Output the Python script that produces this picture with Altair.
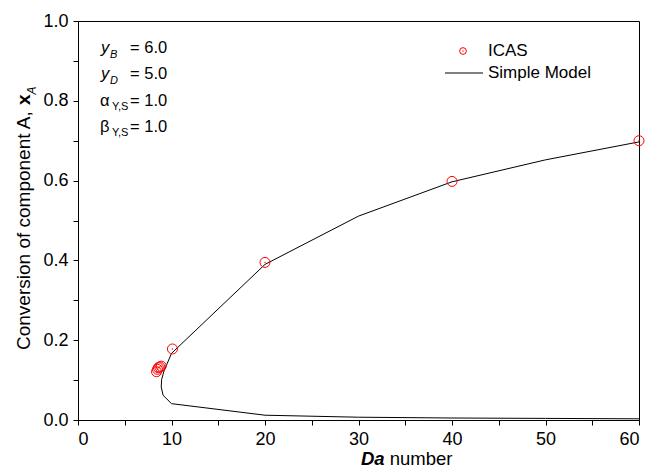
import altair as alt
import pandas as pd

FONT = "Liberation Sans, Arial, sans-serif"

# ICAS simulation results (Da number, conversion of A)
icas_da = [8.4, 8.5, 8.6, 8.75, 8.9, 10.1, 20.0, 40.0, 60.0]
icas_xa = [0.121, 0.127, 0.131, 0.133, 0.135, 0.178, 0.395, 0.598, 0.700]

# Simple model curve, traced from the high-conversion branch around the turning point
model_da = [60, 50, 40, 30, 20, 10.0, 9.2, 8.95, 8.9, 9.1, 10.0, 20, 30, 40, 50, 60]
model_xa = [0.697, 0.652, 0.597, 0.511, 0.390, 0.167, 0.123, 0.102, 0.083, 0.062, 0.041,
            0.012, 0.007, 0.005, 0.004, 0.003]

x_ticks = [0, 5, 10, 15, 20, 25, 30, 35, 40, 45, 50, 55, 60]
y_ticks = [0.0, 0.1, 0.2, 0.3, 0.4, 0.5, 0.6, 0.7, 0.8, 0.9, 1.0]

# plot-area placement inside the 647x470 canvas
L, T, W, H = 78, 21, 561, 399

icas = pd.DataFrame({"da": icas_da, "xa": icas_xa})
model = pd.DataFrame({"da": model_da, "xa": model_xa, "seq": list(range(len(model_da)))})

x_scale = alt.Scale(domain=[0, 60], nice=False, zero=False)
y_scale = alt.Scale(domain=[0, 1], nice=False, zero=False)

x_enc = alt.X("da:Q", scale=x_scale, title=None,
              axis=alt.Axis(values=x_ticks, labelExpr="datum.value % 10 == 0 ? datum.label : ''",
                            format="d"))
y_enc = alt.Y("xa:Q", scale=y_scale, title=None,
              axis=alt.Axis(values=y_ticks, format=".1f",
                            labelExpr="round(datum.value * 10) % 2 == 0 ? datum.label : ''"))

line = alt.Chart(model).mark_line(color="black", strokeWidth=1, clip=False).encode(
    x=x_enc, y=y_enc, order="seq:Q")

rings = alt.Chart(icas).mark_point(shape="circle", filled=False, color="red",
                                   size=100, strokeWidth=1, opacity=1).encode(x=x_enc, y=y_enc)
dots = alt.Chart(icas).mark_point(shape="circle", filled=True, color="red",
                                  size=2, opacity=1).encode(x=x_enc, y=y_enc)


def note(text, x, y, size=16.5, style="normal", weight="normal", angle=0,
         align="left", baseline="alphabetic"):
    """Free text placed at canvas pixel position (x, y)."""
    return alt.Chart(pd.DataFrame({"t": [text]})).mark_text(
        font=FONT, fontSize=size, fontStyle=style, fontWeight=weight, angle=angle,
        align=align, baseline=baseline, color="black"
    ).encode(x=alt.value(x - L), y=alt.value(y - T), text="t:N")


# parameter block
params = [
    note("y", 101, 53, style="italic"), note("B", 110, 58, size=11, style="italic"),
    note("= 6.0", 130, 53),
    note("y", 101, 79, style="italic"), note("D", 110, 84, size=11, style="italic"),
    note("= 5.0", 130, 79),
    note("α", 100, 106), note("Y,S", 112, 110, size=11), note("= 1.0", 130, 106),
    note("β", 100, 132), note("Y,S", 112, 136, size=11), note("= 1.0", 130, 132),
]

# legend
leg_ring = alt.Chart(pd.DataFrame({"k": ["ICAS"]})).mark_point(
    shape="circle", filled=False, color="red", size=45, strokeWidth=1, opacity=1
).encode(x=alt.value(463 - L), y=alt.value(51 - T))
leg_dot = alt.Chart(pd.DataFrame({"k": ["ICAS"]})).mark_point(
    shape="circle", filled=True, color="red", size=2, opacity=1
).encode(x=alt.value(463 - L), y=alt.value(51 - T))
leg_line = alt.Chart(pd.DataFrame({"k": ["Simple Model"]})).mark_rule(
    color="black", strokeWidth=1
).encode(x=alt.value(445 - L), x2=alt.value(483 - L), y=alt.value(73 - T))
legend = [leg_ring, leg_dot, leg_line,
          note("ICAS", 488, 51, size=17, baseline="middle"),
          note("Simple Model", 488, 73, size=17, baseline="middle")]

# axis titles with mixed styling
TS = 18.5
titles = [
    note("Da", 361, 465, size=TS, style="italic", weight="bold"),
    note("number", 361 + (1278 + 278) * TS / 1000, 465, size=TS),
    note("Conversion of component A,", 30, 350, size=19, angle=270),
    note("x", 30, 350 - 12895 * 19 / 1000, size=19, weight="bold", angle=270),
    note("A", 36, 350 - (12895 + 556) * 19 / 1000, size=12, style="italic", angle=270),
]

chart = alt.layer(line, rings, dots, *params, *legend, *titles).properties(
    width=W, height=H,
    autosize=alt.AutoSizeParams(type="none"),
    padding={"left": L, "top": T, "right": 647 - L - W, "bottom": 470 - T - H},
).configure_view(
    stroke="black", strokeWidth=1
).configure_axis(
    domainColor="black", domainWidth=1, tickColor="black", tickSize=5, tickWidth=1,
    labelColor="black", labelFont=FONT, labelFontSize=18, grid=False,
).configure_axisX(labelPadding=5).configure_axisY(labelPadding=5)

chart.save("out.html", embed_options={"renderer": "svg", "actions": False})
